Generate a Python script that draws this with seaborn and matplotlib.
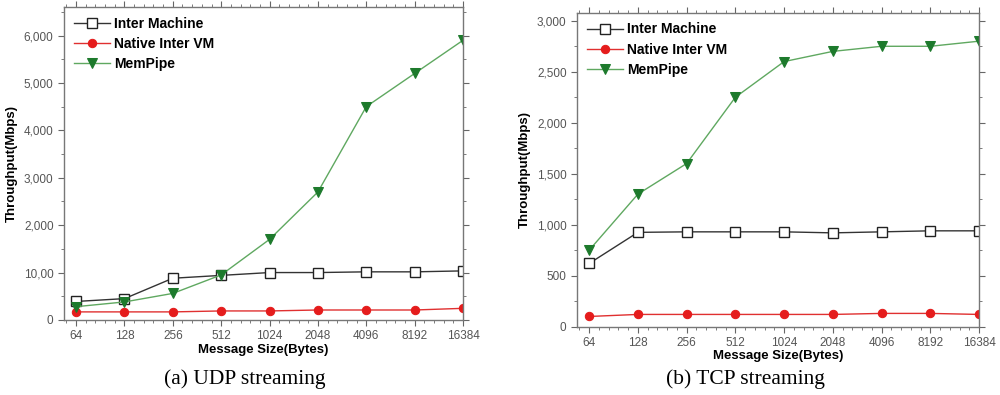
import pandas as pd
import numpy as np
import matplotlib
matplotlib.use("Agg")
import matplotlib.pyplot as plt
from matplotlib.ticker import AutoMinorLocator, MultipleLocator, FixedLocator
import seaborn as sns

# message sizes (categorical x axis)
sizes = ["64", "128", "256", "512", "1024", "2048", "4096", "8192", "16384"]
series_names = ["Inter Machine", "Native Inter VM", "MemPipe"]

# (a) UDP streaming, Mbps
udp_inter = [390, 450, 880, 940, 1000, 1000, 1015, 1015, 1035]
udp_native = [170, 170, 170, 190, 190, 210, 210, 210, 245]
udp_mempipe = [280, 380, 560, 950, 1700, 2700, 4500, 5200, 5900]

# (b) TCP streaming, Mbps
tcp_inter = [620, 925, 930, 930, 930, 920, 930, 940, 940]
tcp_native = [100, 120, 120, 120, 120, 120, 130, 130, 120]
tcp_mempipe = [750, 1300, 1600, 2250, 2600, 2700, 2750, 2750, 2800]

udp_ticks = [0, 1000, 2000, 3000, 4000, 5000, 6000]
udp_ticklabels = ["0", "10,00", "2,000", "3,000", "4,000", "5,000", "6,000"]
tcp_ticks = [0, 500, 1000, 1500, 2000, 2500, 3000]
tcp_ticklabels = ["0", "500", "1,000", "1,500", "2,000", "2,500", "3,000"]

styles = {
    "Inter Machine": dict(color="#333333", marker="s", markersize=6.5,
                          markerfacecolor="white", markeredgecolor="#222222",
                          markeredgewidth=1.0),
    "Native Inter VM": dict(color="#e03030", marker="o", markersize=6,
                            markerfacecolor="#e51c1c", markeredgecolor="#e51c1c"),
    "MemPipe": dict(color="#5fa860", marker="v", markersize=7.5,
                    markerfacecolor="#1d7a2c", markeredgecolor="#1d7a2c"),
}

plt.rcParams["font.family"] = ["Liberation Sans", "DejaVu Sans"]

fig = plt.figure(figsize=(10, 3.95), dpi=100)
ax1 = fig.add_axes([0.064, 0.19, 0.399, 0.792])
ax2 = fig.add_axes([0.577, 0.173, 0.402, 0.795])


def draw_panel(ax, values, ymax, ticks, ticklabels, minor_step):
    df = pd.DataFrame({"size": sizes * 3,
                       "series": np.repeat(series_names, len(sizes)),
                       "value": np.concatenate(values)})
    for name in series_names:
        sub = df[df["series"] == name]
        sns.lineplot(data=sub, x="size", y="value", ax=ax, linewidth=1.0,
                     label=name, sort=False, **styles[name])
    ax.set_xlim(-0.25, 8)
    ax.set_ylim(0, ymax)
    ax.yaxis.set_major_locator(FixedLocator(ticks))
    ax.set_yticklabels(ticklabels)
    ax.yaxis.set_minor_locator(MultipleLocator(minor_step))
    ax.xaxis.set_minor_locator(AutoMinorLocator(5))
    ax.tick_params(axis="both", which="both", direction="out",
                   top=True, right=True, colors="#666666",
                   labelcolor="#555555", labelsize=8.5)
    ax.tick_params(which="major", length=4)
    ax.tick_params(which="minor", length=2)
    for sp in ax.spines.values():
        sp.set_color("#777777")
        sp.set_linewidth(1.0)
    ax.set_xlabel("Message Size(Bytes)", fontsize=9.5, fontweight="bold",
                  labelpad=1)
    ax.set_ylabel("Throughput(Mbps)", fontsize=9.5, fontweight="bold")
    ax.legend(loc="upper left", frameon=False,
              prop={"weight": "bold", "size": 10}, handlelength=2.6,
              labelspacing=0.45, borderaxespad=0.3, handletextpad=0.3,
              borderpad=0.4)


draw_panel(ax1, [udp_inter, udp_native, udp_mempipe], 6600,
           udp_ticks, udp_ticklabels, 500)
draw_panel(ax2, [tcp_inter, tcp_native, tcp_mempipe], 3080,
           tcp_ticks, tcp_ticklabels, 250)

fig.text(0.245, 0.04, "(a) UDP streaming", ha="center", va="center",
         family="Liberation Serif", fontsize=15.5)
fig.text(0.745, 0.04, "(b) TCP streaming", ha="center", va="center",
         family="Liberation Serif", fontsize=15.5)

fig.savefig("out.png", dpi=100)
